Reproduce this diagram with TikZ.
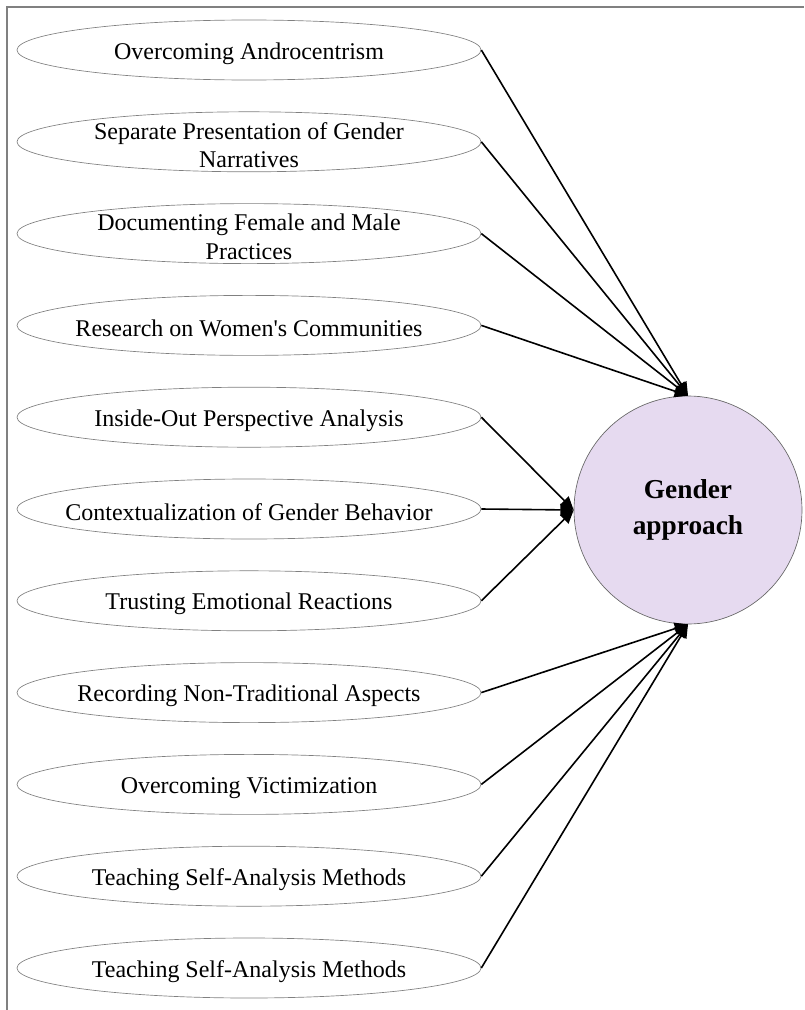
\documentclass[tikz,border=0pt]{standalone}
\usepackage{fontspec}
\setmainfont{Liberation Serif}
\usetikzlibrary{arrows.meta,shapes.geometric}
\definecolor{SoftLilac}{RGB}{230,218,240}
\definecolor{FrameGray}{RGB}{128,128,128}

\begin{document}
\begin{tikzpicture}[x=0.75pt,y=-0.75pt,>={Triangle[length=10pt,width=9pt]},
  item/.style={ellipse,draw=gray,line width=0.5pt,minimum width=348pt,
    minimum height=45pt,inner sep=0pt,
    label={[align=center,yshift=-2.5pt,font=\fontsize{18}{21.5}\selectfont]center:{#1}}},
  hub/.style={circle,draw=black!60,line width=0.5pt,fill=SoftLilac,
    minimum size=171pt,align=center,
    font=\fontsize{20.5}{27.5}\selectfont\bfseries},
  link/.style={->,line width=1.2pt}]
  \useasboundingbox (0,0) rectangle (804,1010);
  \draw[FrameGray,line width=1.5pt] (7,1010)--(7,7)--(804,7);
  \node[hub] (gender) at (688,510) {Gender\\approach};
  % the eleven aspects
  \foreach \i/\txt in {1/Overcoming Androcentrism,
      2/{Separate Presentation of Gender\\Narratives},
      3/{Documenting Female and Male\\Practices},
      4/Research on Women\textquotesingle s Communities,
      5/Inside-Out Perspective Analysis,
      6/Contextualization of Gender Behavior,
      7/Trusting Emotional Reactions,
      8/Recording Non-Traditional Aspects,
      9/Overcoming Victimization,
      10/Teaching Self-Analysis Methods,
      11/Teaching Self-Analysis Methods}
    \node[item=\txt] (a\i) at (249,{50+91.8*(\i-1)}) {};
  \foreach \i in {1,...,4} \draw[link] (a\i.east) -- (gender.north);
  \foreach \i in {5,6,7} \draw[link] (a\i.east) -- (gender.west);
  \foreach \i in {8,...,11} \draw[link] (a\i.east) -- (gender.south);
\end{tikzpicture}
\end{document}
